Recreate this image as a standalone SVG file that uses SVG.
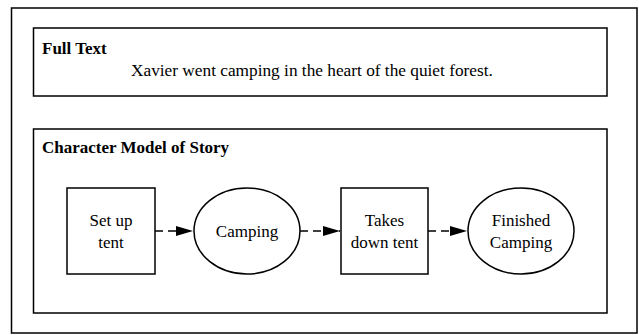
<svg xmlns="http://www.w3.org/2000/svg" width="639" height="335" viewBox="0 0 639 335">
<style>
.frame{fill:#fff;stroke:#000;stroke-width:1.5}
.shape{fill:#fff;stroke:#000;stroke-width:1.5}
.t{font-family:'Liberation Serif','Times New Roman',serif;font-size:17px;fill:#000}
.b{font-weight:bold}
.c{text-anchor:middle}
.edge{stroke:#000;stroke-width:1.5;stroke-dasharray:8 5;fill:none}
</style>
<defs>
<marker id="ah" markerWidth="18" markerHeight="12" refX="17" refY="6" orient="auto" markerUnits="userSpaceOnUse">
<path d="M0,1 L17,6 L0,11 Z" fill="#000"/>
</marker>
</defs>
<rect id="outer" class="frame" x="11.5" y="8" width="625.5" height="325"/>
<g id="fulltext">
<rect class="frame" x="33.5" y="28" width="573.5" height="68"/>
<text class="t b" x="42" y="54">Full Text</text>
<text class="t" x="131" y="76" font-size="17.3" style="font-size:17.3px">Xavier went camping in the heart of the quiet forest.</text>
</g>
<g id="model">
<rect class="frame" x="33.5" y="129" width="573.5" height="184"/>
<text class="t b" x="42" y="153">Character Model of Story</text>
</g>
<g id="connectors">
<line class="edge" x1="155" y1="231" x2="193" y2="231" marker-end="url(#ah)"/>
<line class="edge" x1="300" y1="231" x2="340" y2="231" marker-end="url(#ah)"/>
<line class="edge" x1="428" y1="231" x2="467" y2="231" marker-end="url(#ah)"/>
</g>
<g id="n1">
<rect class="shape" x="67" y="188" width="88" height="86"/>
<text class="t c" x="111" y="226">Set up</text>
<text class="t c" x="111" y="248">tent</text>
</g>
<g id="n2">
<ellipse class="shape" cx="247" cy="231" rx="53" ry="43"/>
<text class="t c" x="247" y="237">Camping</text>
</g>
<g id="n3">
<rect class="shape" x="341" y="188" width="87" height="86"/>
<text class="t c" x="384.5" y="226">Takes</text>
<text class="t c" x="384.5" y="248">down tent</text>
</g>
<g id="n4">
<ellipse class="shape" cx="521" cy="231" rx="53" ry="43"/>
<text class="t c" x="521" y="226">Finished</text>
<text class="t c" x="521" y="248">Camping</text>
</g>
</svg>
